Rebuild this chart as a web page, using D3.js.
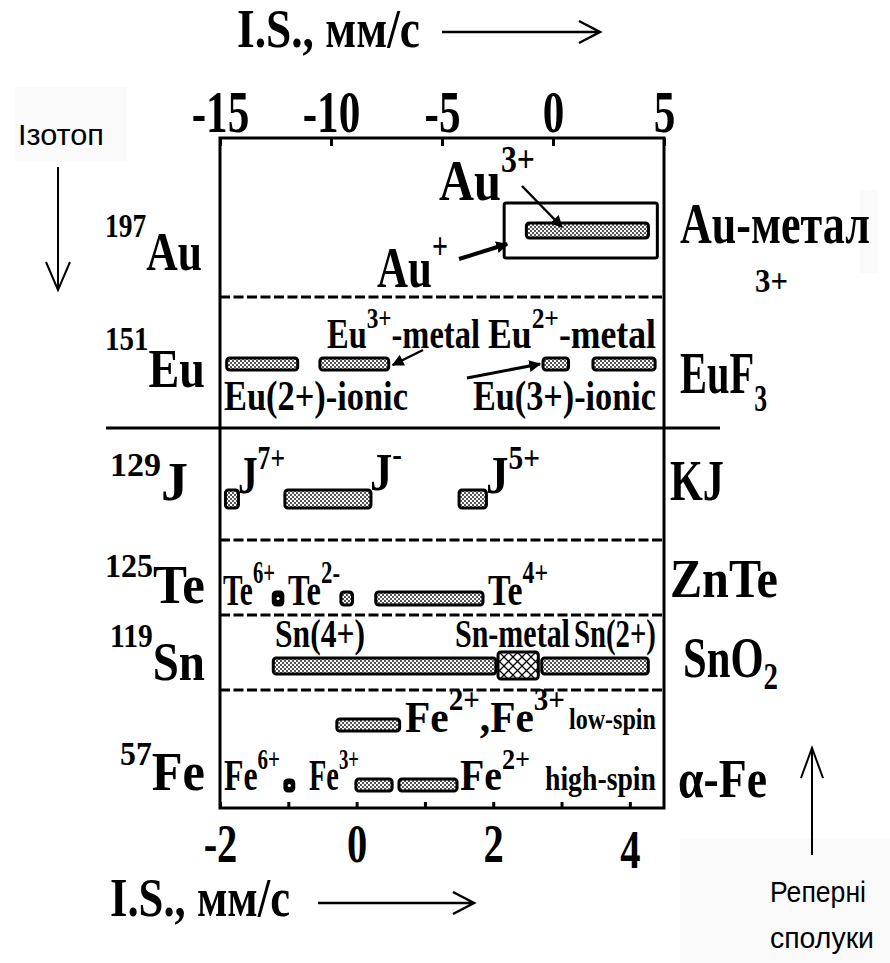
<!DOCTYPE html>
<html>
<head>
<meta charset="utf-8">
<script src="https://cdn.jsdelivr.net/npm/d3@7"></script>
<style>
  html, body { margin: 0; padding: 0; background: #fff; }
  svg { display: block; }
</style>
</head>
<body>
<svg id="chart" width="890" height="963"></svg>
<script>
// ---- isomer-shift scales (mm/s) ----
const topTicks = [-15, -10, -5, 0, 5];
const bottomTicks = [-2, -1, 0, 1, 2, 3, 4];
const bottomTickLabels = [-2, 0, 2, 4];

// ---- isotopes ----
const isotopeMass   = ["197", "151", "129", "125", "119", "57"];
const isotopeSymbol = ["Au", "Eu", "J", "Te", "Sn", "Fe"];

// ---- isomer-shift ranges [from, to], mm/s ----
// 197Au and 151Eu are read on the upper scale, the rest on the lower one
const auRanges    = [[-1.2, 4.3]];
const auMetalBox  = [-2.2, 4.7];
const euRanges    = [[-14.7, -11.5], [-10.5, -7.4], [-0.45, 0.7], [1.8, 4.6]];
const jRanges     = [[-1.92, -1.73], [-1.05, 0.21], [1.5, 1.9]];
const teSixPlus   = [[-1.22, -1.08]];
const teRanges    = [[-0.23, -0.06], [0.28, 1.85]];
const snRanges    = [[-1.22, 2.04], [2.71, 4.27]];
const snMetal     = [[2.07, 2.66]];
const feLowSpin   = [[-0.29, 0.63]];
const feHighSpin  = [[-0.01, 0.52], [0.62, 1.47]];
const feSixPlus   = [[-1.05, -0.92]];

const SERIF = "'Liberation Serif','Times New Roman',serif";
const SANS  = "'Liberation Sans',Arial,sans-serif";

const svg = d3.select("#chart");
const frame = { left: 220, right: 664, top: 138, bottom: 808 };

const xTop = d3.scaleLinear().domain([-15, 5]).range([frame.left, frame.right]);
const xBot = d3.scaleLinear().domain([-2, 4.5]).range([frame.left, frame.right]);

// ---- fills ----
const defs = svg.append("defs");
const chk = defs.append("pattern").attr("id", "checker")
  .attr("patternUnits", "userSpaceOnUse").attr("width", 4).attr("height", 4);
chk.append("rect").attr("width", 4).attr("height", 4).attr("fill", "#fff");
chk.append("rect").attr("width", 2).attr("height", 2).attr("fill", "#555");
chk.append("rect").attr("x", 2).attr("y", 2).attr("width", 2).attr("height", 2).attr("fill", "#555");

const cross = defs.append("pattern").attr("id", "cross")
  .attr("patternUnits", "userSpaceOnUse").attr("width", 9).attr("height", 9);
cross.append("rect").attr("width", 9).attr("height", 9).attr("fill", "#fff");
cross.append("path").attr("d", "M0,0L9,9M9,0L0,9").attr("stroke", "#000").attr("stroke-width", 1.3);

defs.append("marker").attr("id", "head")
  .attr("viewBox", "0 0 10 10").attr("refX", 9).attr("refY", 5)
  .attr("markerWidth", 12).attr("markerHeight", 12)
  .attr("markerUnits", "userSpaceOnUse").attr("orient", "auto")
  .append("path").attr("d", "M0,0L10,5L0,10z").attr("fill", "#000");

// ---- faint label panels ----
const panels = [[15, 87, 112, 75], [680, 838, 210, 125], [860, 190, 17, 83]];
svg.selectAll("rect.panel").data(panels).join("rect").attr("class", "panel")
  .attr("x", d => d[0]).attr("y", d => d[1]).attr("width", d => d[2]).attr("height", d => d[3])
  .attr("fill", "#fafafa");

// rich text: parts with optional sup/sub, squeezed horizontally to width w
function rich(parts, o) {
  const t = svg.append("text")
    .attr("font-family", o.family || SERIF)
    .attr("font-weight", o.weight || "bold")
    .attr("font-size", o.size).attr("fill", "#000");
  let shift = 0;
  parts.forEach(p => {
    const target = p.sup ? -p.sup : p.sub ? p.sub : 0;
    t.append("tspan").attr("dy", target - shift)
      .attr("font-size", p.size || o.size).text(p.t);
    shift = target;
  });
  const len = t.node().getComputedTextLength();
  const sx = o.w ? o.w / len : 1;
  t.attr("transform", `translate(${o.x},${o.y}) scale(${sx},1)`);
  return t;
}

// open-headed arrow
function plainArrow(x1, y1, x2, y2, head, half, sw) {
  const a = Math.atan2(y2 - y1, x2 - x1);
  const bx = x2 - head * Math.cos(a), by = y2 - head * Math.sin(a);
  const nx = -Math.sin(a) * half, ny = Math.cos(a) * half;
  svg.append("path")
    .attr("d", `M${x1},${y1}L${x2},${y2}M${bx + nx},${by + ny}L${x2},${y2}L${bx - nx},${by - ny}`)
    .attr("fill", "none").attr("stroke", "#000").attr("stroke-width", sw || 2.5);
}

// ---- axis titles ----
rich([{ t: "I.S., мм/с" }], { x: 237, y: 47, w: 183, size: 54 });
plainArrow(442, 32, 600, 32, 21, 11, 2.5);
rich([{ t: "I.S., мм/с" }], { x: 110, y: 916, w: 180, size: 54 });
plainArrow(318, 903, 474, 903, 21, 11, 2.5);

// ---- row separators ----
const rowLines = [297, 540, 615, 690];
svg.selectAll("line.sep").data(rowLines).join("line").attr("class", "sep")
  .attr("x1", frame.left).attr("x2", frame.right).attr("y1", d => d).attr("y2", d => d)
  .attr("stroke", "#000").attr("stroke-width", 3).attr("stroke-dasharray", "10,3.5");
svg.append("line").attr("x1", 106).attr("x2", 720).attr("y1", 428).attr("y2", 428)
  .attr("stroke", "#000").attr("stroke-width", 3);

// ---- frame ----
svg.append("rect").attr("x", frame.left).attr("y", frame.top)
  .attr("width", frame.right - frame.left).attr("height", frame.bottom - frame.top)
  .attr("fill", "none").attr("stroke", "#000").attr("stroke-width", 3);

// ---- axes ----
const hyphenInt = d => String(d).replace("\u2212", "-");
const gTop = svg.append("g").attr("transform", `translate(0,${frame.top})`)
  .call(d3.axisTop(xTop).tickValues(topTicks).tickSizeInner(-8).tickSizeOuter(0)
    .tickPadding(6).tickFormat(hyphenInt));
const gBot = svg.append("g").attr("transform", `translate(0,${frame.bottom})`)
  .call(d3.axisBottom(xBot).tickValues(bottomTicks).tickSizeInner(-6).tickSizeOuter(0)
    .tickFormat(d => bottomTickLabels.includes(d) ? hyphenInt(d) : ""));
[gTop, gBot].forEach(g => {
  g.select(".domain").remove();
  g.selectAll(".tick line").attr("stroke", "#000").attr("stroke-width", 3);
  g.selectAll(".tick text").attr("fill", "#000").attr("font-family", SERIF)
    .attr("font-weight", "bold");
});
gTop.selectAll(".tick text").attr("y", -6).attr("dy", 0)
  .attr("font-size", 60).attr("transform", "scale(0.72,1)");
gBot.selectAll(".tick text").attr("dy", 0)
  .attr("y", d => d === 4 ? 60 : 54)
  .attr("font-size", 54).attr("transform", "scale(0.75,1)");

// ---- ranges ----
function bars(data, x, y0, y1, fill) {
  svg.selectAll(null).data(data).join("rect")
    .attr("x", d => x(d[0])).attr("width", d => x(d[1]) - x(d[0]))
    .attr("y", y0).attr("height", y1 - y0).attr("rx", 3)
    .attr("fill", fill).attr("stroke", "#000").attr("stroke-width", 3);
}
function dotBoxes(data, x, y0, y1) {
  bars(data, x, y0, y1, "#000");
  svg.selectAll(null).data(data).join("circle")
    .attr("cx", d => (x(d[0]) + x(d[1])) / 2).attr("cy", (y0 + y1) / 2).attr("r", 1.6)
    .attr("fill", "#fff");
}

// gold
svg.append("rect").attr("x", xTop(auMetalBox[0])).attr("width", xTop(auMetalBox[1]) - xTop(auMetalBox[0]))
  .attr("y", 203).attr("height", 55).attr("rx", 2)
  .attr("fill", "none").attr("stroke", "#000").attr("stroke-width", 3);
bars(auRanges, xTop, 223, 238, "url(#checker)");
// europium
bars(euRanges, xTop, 358, 370, "url(#checker)");
// iodine
bars(jRanges, xBot, 490, 508, "url(#checker)");
// tellurium
dotBoxes(teSixPlus, xBot, 592, 605);
bars(teRanges, xBot, 592, 605, "url(#checker)");
// tin
bars(snRanges, xBot, 658, 674, "url(#checker)");
bars(snMetal, xBot, 652, 679, "url(#cross)");
// iron
bars(feLowSpin, xBot, 719, 731, "url(#checker)");
bars(feHighSpin, xBot, 779, 791, "url(#checker)");
dotBoxes(feSixPlus, xBot, 780, 791);

// ---- isotope labels ----
const isoLayout = [
  { x: 105, w: 97, y: 270, rise: 33 },
  { x: 105, w: 100, y: 387, rise: 37 },
  { x: 110, w: 78, y: 500, rise: 24 },
  { x: 105, w: 100, y: 603, rise: 26 },
  { x: 110, w: 95, y: 680, rise: 33 },
  { x: 120, w: 85, y: 790, rise: 25 }
];
isotopeMass.forEach((m, i) => {
  const L = isoLayout[i];
  rich([{ t: m, sup: L.rise, size: 34 }, { t: isotopeSymbol[i] }], { x: L.x, y: L.y, w: L.w, size: 54 });
});

// ---- reference compounds ----
rich([{ t: "Au-метал" }], { x: 680, y: 243, w: 190, size: 56 });
rich([{ t: "3+" }], { x: 755, y: 292, w: 33, size: 34 });
rich([{ t: "EuF" }, { t: "3", sub: 18, size: 38 }], { x: 680, y: 393, w: 87, size: 60 });
rich([{ t: "KJ" }], { x: 670, y: 500, w: 54, size: 56 });
rich([{ t: "ZnTe" }], { x: 670, y: 597, w: 108, size: 54 });
rich([{ t: "SnO" }, { t: "2", sub: 12, size: 38 }], { x: 683, y: 677, w: 95, size: 56 });
rich([{ t: "α-Fe" }], { x: 678, y: 797, w: 89, size: 54 });

// ---- range captions ----
rich([{ t: "Au" }, { t: "3+", sup: 28, size: 38 }], { x: 439, y: 200, w: 96, size: 58 });
rich([{ t: "Au" }, { t: "+", sup: 28, size: 38 }], { x: 377, y: 287, w: 71, size: 58 });
svg.append("line").attr("x1", 522).attr("y1", 186).attr("x2", xTop(0.4)).attr("y2", 227)
  .attr("stroke", "#000").attr("stroke-width", 2.5).attr("marker-end", "url(#head)");
svg.append("line").attr("x1", 459).attr("y1", 259).attr("x2", xTop(auMetalBox[0]) + 3).attr("y2", 244)
  .attr("stroke", "#000").attr("stroke-width", 4).attr("marker-end", "url(#head)");

rich([{ t: "Eu" }, { t: "3+", sup: 20, size: 30 }, { t: "-metal" }], { x: 327, y: 348, w: 153, size: 42 });
rich([{ t: "Eu" }, { t: "2+", sup: 20, size: 30 }, { t: "-metal" }], { x: 488, y: 348, w: 168, size: 42 });
rich([{ t: "Eu(2+)-ionic" }], { x: 224, y: 410, w: 184, size: 42 });
rich([{ t: "Eu(3+)-ionic" }], { x: 473, y: 410, w: 183, size: 42 });
svg.append("line").attr("x1", 423).attr("y1", 350).attr("x2", xTop(euRanges[1][1]) + 4).attr("y2", 365)
  .attr("stroke", "#000").attr("stroke-width", 2.5).attr("marker-end", "url(#head)");
svg.append("line").attr("x1", 467).attr("y1", 378).attr("x2", xTop(euRanges[2][0]) - 3).attr("y2", 364)
  .attr("stroke", "#000").attr("stroke-width", 3).attr("marker-end", "url(#head)");

rich([{ t: "J" }, { t: "7+", sup: 24, size: 34 }], { x: 238, y: 493, w: 47, size: 52 });
rich([{ t: "J" }, { t: "-", sup: 24, size: 34 }], { x: 370, y: 490, w: 32, size: 52 });
rich([{ t: "J" }, { t: "5+", sup: 24, size: 34 }], { x: 486, y: 493, w: 54, size: 52 });

rich([{ t: "Te" }, { t: "6+", sup: 22, size: 31 }], { x: 223, y: 605, w: 52, size: 44 });
rich([{ t: "Te" }, { t: "2-", sup: 22, size: 31 }], { x: 288, y: 605, w: 52, size: 44 });
rich([{ t: "Te" }, { t: "4+", sup: 22, size: 31 }], { x: 488, y: 605, w: 60, size: 44 });

rich([{ t: "Sn(4+)" }], { x: 275, y: 647, w: 90, size: 40 });
rich([{ t: "Sn-metal" }], { x: 455, y: 647, w: 115, size: 40 });
rich([{ t: "Sn(2+)" }], { x: 574, y: 647, w: 82, size: 40 });

rich([{ t: "Fe" }, { t: "2+", sup: 22, size: 31 }, { t: ",Fe" }, { t: "3+", sup: 22, size: 31 }],
  { x: 405, y: 732, w: 160, size: 44 });
rich([{ t: "low-spin" }], { x: 569, y: 729, w: 87, size: 30 });
rich([{ t: "Fe" }, { t: "6+", sup: 21, size: 29 }], { x: 224, y: 790, w: 56, size: 44 });
rich([{ t: "Fe" }, { t: "3+", sup: 21, size: 29 }], { x: 309, y: 790, w: 50, size: 44 });
rich([{ t: "Fe" }, { t: "2+", sup: 21, size: 29 }], { x: 460, y: 790, w: 70, size: 44 });
rich([{ t: "high-spin" }], { x: 545, y: 790, w: 111, size: 34 });

// ---- side notes ----
rich([{ t: "Ізотоп" }], { x: 18, y: 145, w: 86, size: 29, family: SANS, weight: "normal" });
plainArrow(58, 167, 58, 290, 28, 12, 2);
plainArrow(812, 855, 812, 748, 30, 11, 2);
rich([{ t: "Реперні" }], { x: 770, y: 902, w: 96, size: 29, family: SANS, weight: "normal" });
rich([{ t: "сполуки" }], { x: 770, y: 948, w: 104, size: 29, family: SANS, weight: "normal" });
</script>
</body>
</html>
